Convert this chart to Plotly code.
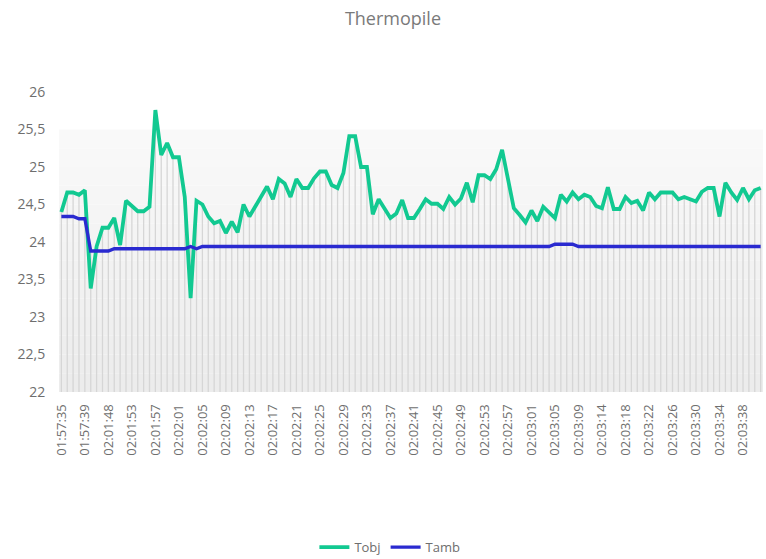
import plotly.graph_objects as go

# Sample timestamps (one per reading)
times = [
    "01:57:35", "01:57:36", "01:57:37", "01:57:38", "01:57:39", "01:57:40", "02:01:46", "02:01:47",
    "02:01:48", "02:01:49", "02:01:50", "02:01:52", "02:01:53", "02:01:54", "02:01:55", "02:01:56",
    "02:01:57", "02:01:58", "02:01:59", "02:02:00", "02:02:01", "02:02:02", "02:02:03", "02:02:04",
    "02:02:05", "02:02:06", "02:02:07", "02:02:08", "02:02:09", "02:02:10", "02:02:11", "02:02:12",
    "02:02:13", "02:02:14", "02:02:15", "02:02:16", "02:02:17", "02:02:18", "02:02:19", "02:02:20",
    "02:02:21", "02:02:22", "02:02:23", "02:02:24", "02:02:25", "02:02:26", "02:02:27", "02:02:28",
    "02:02:29", "02:02:30", "02:02:31", "02:02:32", "02:02:33", "02:02:34", "02:02:35", "02:02:36",
    "02:02:37", "02:02:38", "02:02:39", "02:02:40", "02:02:41", "02:02:42", "02:02:43", "02:02:44",
    "02:02:45", "02:02:46", "02:02:47", "02:02:48", "02:02:49", "02:02:50", "02:02:51", "02:02:52",
    "02:02:53", "02:02:54", "02:02:55", "02:02:56", "02:02:57", "02:02:58", "02:02:59", "02:03:00",
    "02:03:01", "02:03:02", "02:03:03", "02:03:04", "02:03:05", "02:03:06", "02:03:07", "02:03:08",
    "02:03:09", "02:03:10", "02:03:11", "02:03:13", "02:03:14", "02:03:15", "02:03:16", "02:03:17",
    "02:03:18", "02:03:19", "02:03:20", "02:03:21", "02:03:22", "02:03:23", "02:03:24", "02:03:25",
    "02:03:26", "02:03:27", "02:03:28", "02:03:29", "02:03:30", "02:03:31", "02:03:32", "02:03:33",
    "02:03:34", "02:03:35", "02:03:36", "02:03:37", "02:03:38", "02:03:39", "02:03:40", "02:03:41",
]

# Object temperature (°C)
tobj = [
    24.40, 24.66, 24.66, 24.63, 24.69, 23.38, 23.94, 24.19, 24.19, 24.32,
    23.96, 24.55, 24.48, 24.41, 24.41, 24.47, 25.76, 25.16, 25.32, 25.13,
    25.13, 24.60, 23.25, 24.55, 24.50, 24.34, 24.25, 24.28, 24.12, 24.27,
    24.13, 24.50, 24.34, 24.47, 24.61, 24.74, 24.57, 24.84, 24.78, 24.60,
    24.84, 24.72, 24.72, 24.85, 24.94, 24.94, 24.76, 24.72, 24.92, 25.41,
    25.41, 25.00, 25.00, 24.37, 24.57, 24.44, 24.32, 24.38, 24.56, 24.32,
    24.32, 24.44, 24.57, 24.51, 24.51, 24.44, 24.60, 24.50, 24.58, 24.79,
    24.53, 24.89, 24.89, 24.84, 24.97, 25.23, 24.82, 24.45, 24.36, 24.26,
    24.42, 24.28, 24.47, 24.39, 24.32, 24.63, 24.54, 24.66, 24.57, 24.63,
    24.60, 24.48, 24.45, 24.73, 24.44, 24.44, 24.60, 24.52, 24.55, 24.42,
    24.66, 24.57, 24.66, 24.66, 24.66, 24.57, 24.60, 24.57, 24.54, 24.67,
    24.72, 24.72, 24.34, 24.79, 24.66, 24.56, 24.72, 24.57, 24.69, 24.72,
]

# Ambient (sensor die) temperature (°C)
tamb = [
    24.34, 24.34, 24.34, 24.31, 24.31, 23.88, 23.88, 23.88, 23.88, 23.91,
    23.91, 23.91, 23.91, 23.91, 23.91, 23.91, 23.91, 23.91, 23.91, 23.91,
    23.91, 23.91, 23.94, 23.91, 23.94, 23.94, 23.94, 23.94, 23.94, 23.94,
    23.94, 23.94, 23.94, 23.94, 23.94, 23.94, 23.94, 23.94, 23.94, 23.94,
    23.94, 23.94, 23.94, 23.94, 23.94, 23.94, 23.94, 23.94, 23.94, 23.94,
    23.94, 23.94, 23.94, 23.94, 23.94, 23.94, 23.94, 23.94, 23.94, 23.94,
    23.94, 23.94, 23.94, 23.94, 23.94, 23.94, 23.94, 23.94, 23.94, 23.94,
    23.94, 23.94, 23.94, 23.94, 23.94, 23.94, 23.94, 23.94, 23.94, 23.94,
    23.94, 23.94, 23.94, 23.94, 23.97, 23.97, 23.97, 23.97, 23.94, 23.94,
    23.94, 23.94, 23.94, 23.94, 23.94, 23.94, 23.94, 23.94, 23.94, 23.94,
    23.94, 23.94, 23.94, 23.94, 23.94, 23.94, 23.94, 23.94, 23.94, 23.94,
    23.94, 23.94, 23.94, 23.94, 23.94, 23.94, 23.94, 23.94, 23.94, 23.94,
]

Y_MIN, Y_MAX = 22, 26
BACKDROP_TOP = 25.5
FONT = "Open Sans"
TEXT_GREY = "#6e6e6e"

fig = go.Figure()

# Drop lines from the higher series down to the axis floor
drop_x, drop_y = [], []
for t, a, b in zip(times, tobj, tamb):
    drop_x += [t, t, None]
    drop_y += [Y_MIN, max(a, b), None]
fig.add_trace(go.Scatter(
    x=drop_x, y=drop_y, mode="lines",
    line=dict(color="#d6d6d6", width=1.3),
    hoverinfo="skip", showlegend=False,
))

fig.add_trace(go.Scatter(
    x=times, y=tobj, name="Tobj", mode="lines",
    line=dict(color="#12c991", width=3.8),
))
fig.add_trace(go.Scatter(
    x=times, y=tamb, name="Tamb", mode="lines",
    line=dict(color="#2a2ad0", width=3.3),
))

# Soft grey backdrop behind the plot, slightly darker toward the floor
n_bands = 14
for k in range(n_bands):
    y0 = Y_MIN + (BACKDROP_TOP - Y_MIN) * k / n_bands
    y1 = Y_MIN + (BACKDROP_TOP - Y_MIN) * (k + 1) / n_bands
    g = int(round(236 + (249 - 236) * (k + 0.5) / n_bands))
    fig.add_shape(
        type="rect", xref="paper", yref="y", x0=0, x1=1, y0=y0, y1=y1,
        fillcolor=f"rgb({g},{g},{g})", line_width=0, layer="below",
    )

fig.update_layout(
    width=766, height=559,
    margin=dict(l=59, r=3, t=92, b=167, autoexpand=False),
    paper_bgcolor="white", plot_bgcolor="white",
    separators=",.",
    font=dict(family=FONT, color=TEXT_GREY, size=13),
    title=dict(
        text="Thermopile", x=0.513, xanchor="center", y=0.967, yanchor="middle",
        font=dict(family=FONT, size=18, color="#7a7a7a"),
    ),
    legend=dict(
        orientation="h", xref="container", yref="container",
        x=0.509, xanchor="center", y=0.021, yanchor="middle",
        font=dict(size=13, color=TEXT_GREY), itemwidth=30,
    ),
    showlegend=True,
)

fig.update_xaxes(
    type="category", categoryorder="array", categoryarray=times,
    range=[-0.4, len(times) - 0.6],
    tickmode="array", tickvals=times[::4], ticktext=times[::4],
    tickangle=-90, tickfont=dict(size=13, color=TEXT_GREY),
    showgrid=False, zeroline=False, showline=False,
    ticks="outside", ticklen=6, tickcolor="rgba(0,0,0,0)",
)
fig.update_yaxes(
    range=[Y_MIN, Y_MAX], dtick=0.5, tick0=22,
    showgrid=False, zeroline=False, showline=False,
    tickfont=dict(size=14, color=TEXT_GREY),
    ticks="outside", ticklen=10, tickcolor="rgba(0,0,0,0)",
)

fig.write_html("out.html")
